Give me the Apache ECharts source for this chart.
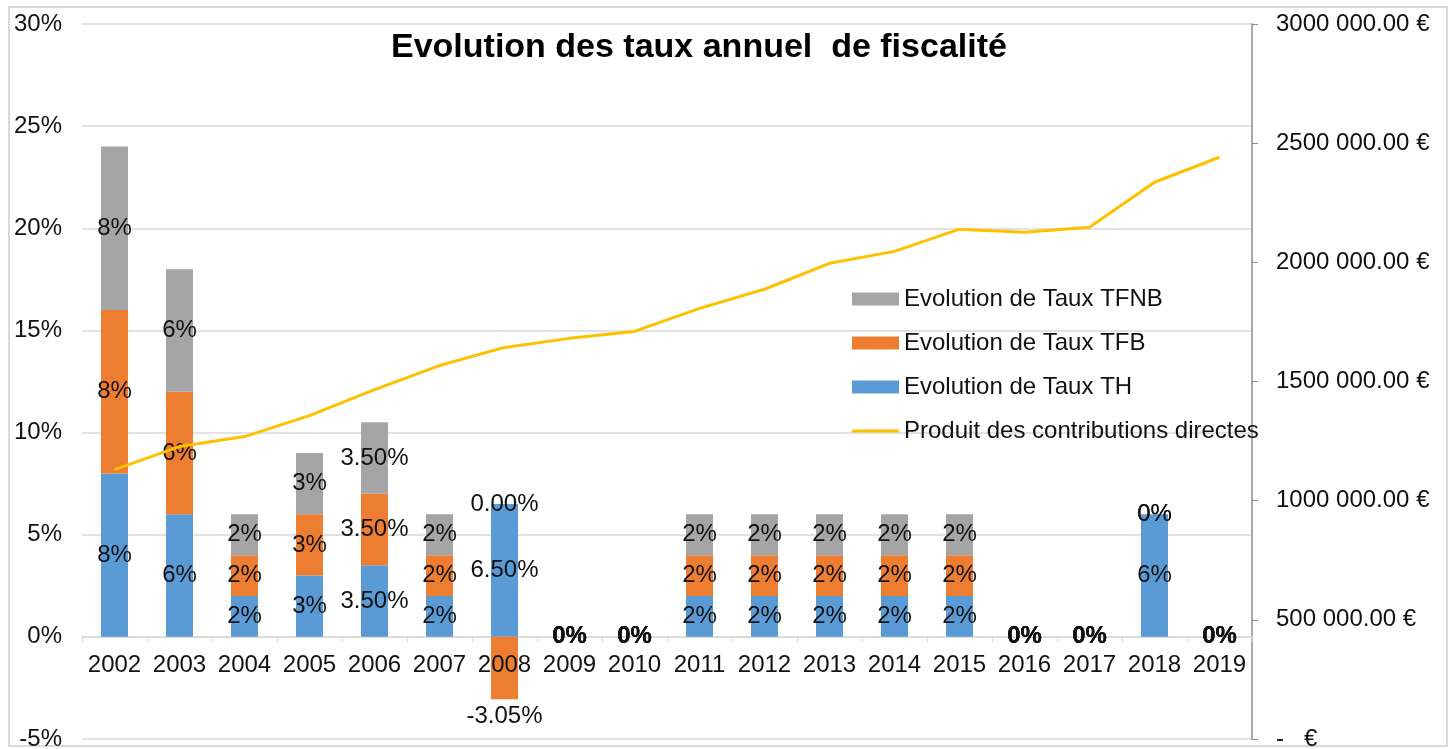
<!DOCTYPE html>
<html>
<head>
<meta charset="utf-8">
<title>Evolution des taux annuel de fiscalité</title>
<script src="https://cdn.jsdelivr.net/npm/echarts@6/dist/echarts.min.js"></script>
<style>
  html, body { margin: 0; padding: 0; background: #fff; }
  #chart { width: 1454px; height: 749px; }
</style>
</head>
<body>
<div id="chart"></div>
<script>
// années
const years = ['2002', '2003', '2004', '2005', '2006', '2007', '2008', '2009', '2010',
  '2011', '2012', '2013', '2014', '2015', '2016', '2017', '2018', '2019'];
// évolutions des taux (%)
const tauxTH   = [8, 6, 2, 3, 3.5, 2, 6.5, 0, 0, 2, 2, 2, 2, 2, 0, 0, 6, 0];
const tauxTFB  = [8, 6, 2, 3, 3.5, 2, -3.05, 0, 0, 2, 2, 2, 2, 2, 0, 0, 0, 0];
const tauxTFNB = [8, 6, 2, 3, 3.5, 2, 0, 0, 0, 2, 2, 2, 2, 2, 0, 0, 0, 0];
// nombre de décimales affichées dans les étiquettes
const decimales = [0, 0, 0, 0, 2, 0, 2, 0, 0, 0, 0, 0, 0, 0, 0, 0, 0, 0];
// produit des contributions directes (€)
const produit = [1130000, 1227000, 1269000, 1357000, 1466000, 1567000, 1643000, 1681000, 1710000,
  1807000, 1887000, 1996000, 2046000, 2139000, 2126000, 2147000, 2336000, 2441000];

const FONT = "'Liberation Sans', Arial, sans-serif";
const AXE_BAS = 739;   // bas de la zone de tracé
const ZERO_Y = 637;    // ligne 0 % (pour placer les années sous l'axe)

function pct(v, i) {
  return (decimales[i] ? v.toFixed(decimales[i]) : String(v)) + '%';
}

function euros(v) {
  if (v === 0) return '-   €';
  const k = Math.floor(v / 1000);
  const r = String(v % 1000).padStart(3, '0');
  return k + ' ' + r + '.00 €';
}

// étiquettes : en dessous pour les valeurs négatives, en gras quand toute la barre est nulle
function barData(values) {
  return values.map(function (v, i) {
    const vide = tauxTH[i] === 0 && tauxTFB[i] === 0 && tauxTFNB[i] === 0;
    return {
      value: v,
      label: {
        position: v < 0 ? 'bottom' : 'inside',
        distance: 5,
        fontWeight: vide ? 'bold' : 'normal'
      }
    };
  });
}

const labelStyle = {
  show: true,
  color: '#111',
  fontSize: 24,
  fontFamily: FONT,
  formatter: function (p) { return pct(p.value, p.dataIndex); }
};

const chart = echarts.init(document.getElementById('chart'));
chart.setOption({
  animation: false,
  backgroundColor: '#fff',
  title: {
    text: 'Evolution des taux annuel  de fiscalité',
    left: 386,
    top: 26,
    textStyle: { fontFamily: FONT, fontSize: 34, fontWeight: 'bold', color: '#000' }
  },
  graphic: [{
    type: 'rect',
    shape: { x: 9, y: 7, width: 1438, height: 739 },
    style: { fill: 'none', stroke: '#d9d9d9', lineWidth: 2 },
    silent: true
  }],
  legend: {
    orient: 'vertical',
    left: 852,
    top: 287,
    padding: 0,
    itemGap: 20,
    itemWidth: 47,
    itemHeight: 13,
    textStyle: { fontFamily: FONT, fontSize: 24, lineHeight: 24, color: '#111' },
    data: [
      { name: 'Evolution de Taux TFNB', icon: 'rect' },
      { name: 'Evolution de Taux TFB', icon: 'rect' },
      { name: 'Evolution de Taux TH', icon: 'rect' },
      // trait simple, sans marqueur
      { name: 'Produit des contributions directes', icon: 'path://M0,0 M47,13 M0,5 L47,5 L47,8 L0,8 Z' }
    ]
  },
  grid: { left: 82, right: 202, top: 24, bottom: 749 - AXE_BAS, containLabel: false, outerBoundsMode: 'none' },
  xAxis: [{
    type: 'category',
    data: years,
    axisLine: { onZero: true, onZeroAxisIndex: 0, lineStyle: { color: '#d9d9d9', width: 1.5 } },
    axisTick: { show: true, length: 5, lineStyle: { color: '#d9d9d9' } },
    axisLabel: { show: false }
  }, {
    // axe des années, recalé sous la ligne 0 %
    type: 'category',
    data: years,
    position: 'bottom',
    offset: ZERO_Y - AXE_BAS,
    z: 5,
    axisLine: { show: false },
    axisTick: { show: false },
    axisLabel: { fontFamily: FONT, fontSize: 24, color: '#111', margin: 16, interval: 0 }
  }],
  yAxis: [{
    type: 'value',
    min: -5,
    max: 30,
    interval: 5,
    axisLine: { show: false },
    axisTick: { show: false },
    splitLine: { lineStyle: { color: '#d9d9d9', width: 1.5 } },
    axisLabel: {
      fontFamily: FONT, fontSize: 24, color: '#111', margin: 20,
      formatter: function (v) { return v + '%'; }
    }
  }, {
    type: 'value',
    position: 'right',
    min: 0,
    max: 3000000,
    interval: 500000,
    axisLine: { show: true, lineStyle: { color: '#8c8c8c', width: 1.5 } },
    axisTick: { show: true, length: 6, lineStyle: { color: '#8c8c8c' } },
    splitLine: { show: false },
    axisLabel: {
      fontFamily: FONT, fontSize: 24, color: '#111', margin: 24,
      formatter: euros
    }
  }],
  series: [{
    name: 'Evolution de Taux TH',
    type: 'bar',
    stack: 'taux',
    barWidth: 27,
    itemStyle: { color: '#5b9bd5' },
    label: labelStyle,
    data: barData(tauxTH)
  }, {
    name: 'Evolution de Taux TFB',
    type: 'bar',
    stack: 'taux',
    barWidth: 27,
    itemStyle: { color: '#ed7d31' },
    label: labelStyle,
    data: barData(tauxTFB)
  }, {
    name: 'Evolution de Taux TFNB',
    type: 'bar',
    stack: 'taux',
    stackStrategy: 'positive',
    barWidth: 27,
    itemStyle: { color: '#a5a5a5' },
    label: labelStyle,
    data: barData(tauxTFNB)
  }, {
    name: 'Produit des contributions directes',
    type: 'line',
    yAxisIndex: 1,
    symbol: 'none',
    z: 3,
    itemStyle: { color: '#ffc000' },
    lineStyle: { color: '#ffc000', width: 3 },
    data: produit
  }]
});
</script>
</body>
</html>
